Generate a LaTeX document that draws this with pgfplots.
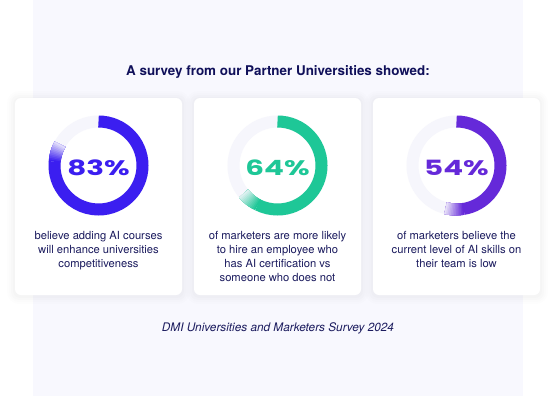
\documentclass[border=0pt]{standalone}
\usepackage{fontspec}
\setmainfont{TeX Gyre Heros}
\newfontfamily\pctfont{Poppins}
\usepackage{pgfplots}
\pgfplotsset{compat=1.18}
\usepackage{pgfplotstable}
\definecolor{c1}{HTML}{3B1EF0}
\definecolor{c2}{HTML}{1EC797}
\definecolor{c3}{HTML}{6529D9}
\definecolor{track}{HTML}{F6F6FC}
\definecolor{panel}{HTML}{F8F8FE}
\definecolor{navy}{HTML}{10105A}
\definecolor{body}{HTML}{1B1B5E}

\pgfplotstableread{
x y value
98.5 165.5 83
}\dataA
\pgfplotstableread{
x y value
277.5 165.5 64
}\dataB
\pgfplotstableread{
x y value
456.5 165.5 54
}\dataC

\pgfplotsset{
  donut/.style={
    scatter, only marks, mark=*, mark size=0pt,
    mark options={draw opacity=0, fill opacity=0},
    visualization depends on={\thisrow{value}\as\val},
    scatter/@pre marker code/.code={%
      \pgfmathsetmacro\endang{90-3.6*\val}%
      \pgfmathsetmacro\fs{\endang+24}%
      \pgfmathtruncatemacro\vi{round(\val)}%
      \draw[line width=12pt, draw=track, draw opacity=1] (0,0) circle[radius=44pt];
      \draw[line width=12pt, draw=#1, draw opacity=1] (90:44pt) arc[start angle=90, end angle=\fs-0.5, radius=44pt];
      \foreach \k in {0,...,11}{%
        \pgfmathsetmacro\aa{\fs-2*\k}%
        \pgfmathtruncatemacro\pp{100-8*\k}%
        \draw[line width=12pt, draw=#1!\pp!track, draw opacity=1] (\aa:44pt) arc[start angle=\aa, end angle=\endang, radius=44pt];
      }%
      \node[text=#1, text opacity=1, anchor=base, inner sep=0pt] at (0,-9.5pt) {\scalebox{1.4}[1]{\pctfont\bfseries\fontsize{21}{21}\selectfont\vi\%}};
    },
    scatter/@post marker code/.code={},
  }
}

\begin{document}
\begin{tikzpicture}
\begin{axis}[
  at={(0,0)}, anchor=south west,
  width=556pt, height=396pt, scale only axis,
  xmin=0, xmax=556, ymin=0, ymax=396, y dir=reverse,
  hide axis, clip=false,
]
% background
\fill[white] (axis cs:0,0) rectangle (axis cs:556,396);
\fill[panel] (axis cs:33,0) rectangle (axis cs:523,396);
% card shadows
\pgfplotsinvokeforeach{15,194,373}{
  \fill[black, opacity=0.006, rounded corners=12pt] (axis cs:#1-8,91) rectangle (axis cs:#1+175,304);
  \fill[black, opacity=0.008, rounded corners=10pt] (axis cs:#1-6,93) rectangle (axis cs:#1+173,302);
  \fill[black, opacity=0.010, rounded corners=8pt] (axis cs:#1-4,95) rectangle (axis cs:#1+171,300);
  \fill[black, opacity=0.012, rounded corners=7pt] (axis cs:#1-2,97) rectangle (axis cs:#1+169,298);
  \fill[white, rounded corners=6pt] (axis cs:#1,98) rectangle (axis cs:#1+167,295);
}
% title
\node[anchor=base, inner sep=0pt, text=navy, font=\bfseries\fontsize{13.4}{16}\selectfont]
  at (axis cs:278,75) {A survey from our Partner Universities showed:};
% donuts
\addplot[donut=c1] table[x=x, y=y] {\dataA};
\addplot[donut=c2] table[x=x, y=y] {\dataB};
\addplot[donut=c3] table[x=x, y=y] {\dataC};
% descriptions
\tikzset{desc/.style={anchor=base, inner sep=0pt, text=body, font=\fontsize{11.2}{14}\selectfont}}
\node[desc] at (axis cs:98.5,239) {believe adding AI courses};
\node[desc] at (axis cs:98.5,253) {will enhance universities};
\node[desc] at (axis cs:98.5,267) {competitiveness};
\node[desc] at (axis cs:277.5,239) {of marketers are more likely};
\node[desc] at (axis cs:277.5,253) {to hire an employee who};
\node[desc] at (axis cs:277.5,267) {has AI certification vs};
\node[desc] at (axis cs:277.5,281) {someone who does not};
\node[desc] at (axis cs:456.5,239) {of marketers believe the};
\node[desc] at (axis cs:456.5,253) {current level of AI skills on};
\node[desc] at (axis cs:456.5,267) {their team is low};
% footer
\node[anchor=base, inner sep=0pt, text=body, font=\itshape\fontsize{11.8}{14}\selectfont]
  at (axis cs:278,331) {DMI Universities and Marketers Survey 2024};
\end{axis}
\end{tikzpicture}
\end{document}
